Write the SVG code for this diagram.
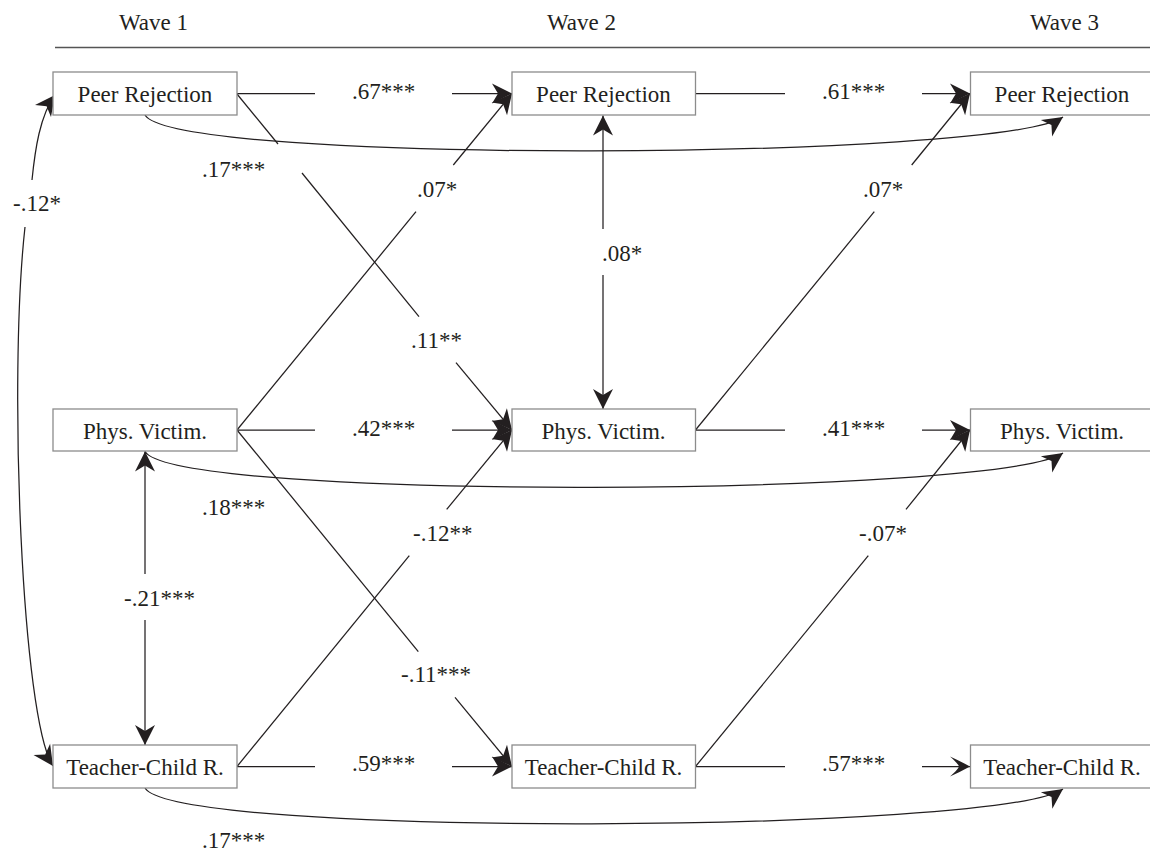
<svg xmlns="http://www.w3.org/2000/svg" width="1150" height="852" viewBox="0 0 1150 852">
<style>
text{font-family:"Liberation Serif","Times New Roman",serif;font-size:23px;fill:#231f20}
.box{fill:#fff;stroke:#8c8c8c;stroke-width:1.3}
.c{fill:none;stroke:#231f20;stroke-width:1.25}
.nl text{text-anchor:middle}
</style>
<defs>
<marker id="a" viewBox="-21 -11 22 22" refX="0" refY="0" markerWidth="22" markerHeight="22" markerUnits="userSpaceOnUse" orient="auto" overflow="visible">
<path d="M0,0 L-20,-10 L-14,0 L-20,10 Z" fill="#231f20"/>
</marker>
<marker id="t" viewBox="-21 -11 22 22" refX="0" refY="0" markerWidth="22" markerHeight="22" markerUnits="userSpaceOnUse" orient="auto" overflow="visible">
<path d="M0,0 Q-9,-5 -20,-10 Q-12,-3 -11,0 Q-12,3 -20,10 Q-9,5 0,0 Z" fill="#231f20"/>
</marker>
</defs>
<rect width="1150" height="852" fill="#fff"/>
<g id="header">
<text x="119" y="30">Wave 1</text>
<text x="547" y="30">Wave 2</text>
<text x="1030" y="30">Wave 3</text>
<line x1="55" y1="47.5" x2="1150" y2="47.5" stroke="#555" stroke-width="1.4"/>
</g>
<g id="connectors">
<!-- horizontal autoregressive -->
<path class="c" d="M237,93.5H315"/>
<path class="c" d="M452,93.5H512" marker-end="url(#a)"/>
<path class="c" d="M695.5,93.5H785"/>
<path class="c" d="M922,93.5H970" marker-end="url(#a)"/>
<path class="c" d="M237,430H315"/>
<path class="c" d="M452,430H512" marker-end="url(#a)"/>
<path class="c" d="M695.5,430H785"/>
<path class="c" d="M922,430H970" marker-end="url(#a)"/>
<path class="c" d="M237,766.5H315"/>
<path class="c" d="M452,766.5H512" marker-end="url(#a)"/>
<path class="c" d="M695.5,766.5H785"/>
<path class="c" d="M922,766.5H970" marker-end="url(#t)"/>
<!-- cross-lagged -->
<path class="c" d="M237,94L278,144"/>
<path class="c" d="M302,173L419,316.7"/>
<path class="c" d="M456,362.7L512,430" marker-end="url(#a)"/>
<path class="c" d="M237,430L416,211.7"/>
<path class="c" d="M453.3,165L512,93.5" marker-end="url(#a)"/>
<path class="c" d="M237,430L418.3,651.7"/>
<path class="c" d="M455,697.3L512,766.5" marker-end="url(#a)"/>
<path class="c" d="M237,766.5L409.3,555.7"/>
<path class="c" d="M446.7,509.3L512,430" marker-end="url(#a)"/>
<path class="c" d="M695.5,430L874.3,211.7"/>
<path class="c" d="M911.7,165L970,93.5" marker-end="url(#a)"/>
<path class="c" d="M695.5,766.5L868.3,555.7"/>
<path class="c" d="M906,509.3L970,430" marker-end="url(#a)"/>
<!-- correlations -->
<path class="c" d="M603,229V115.5" marker-end="url(#a)"/>
<path class="c" d="M603,275V409" marker-end="url(#a)"/>
<path class="c" d="M145,574V451.5" marker-end="url(#a)"/>
<path class="c" d="M145,620V745" marker-end="url(#a)"/>
<path class="c" d="M32,180C35,150 40,115 55,95" marker-end="url(#a)"/>
<path class="c" d="M25,227C8,380 22,720 53,766" marker-end="url(#a)"/>
<!-- stability W1 to W3 -->
<path class="c" d="M145,115C175,165 1000,160 1063,117" marker-end="url(#a)"/>
<path class="c" d="M145,451.5C175,501.5 1000,496.5 1063,453" marker-end="url(#a)"/>
<path class="c" d="M145,788C175,838 1000,833 1063,789" marker-end="url(#a)"/>
</g>
<g id="labels">
<text x="352" y="99">.67***</text>
<text x="822" y="99">.61***</text>
<text x="352" y="436">.42***</text>
<text x="822" y="436">.41***</text>
<text x="352" y="771">.59***</text>
<text x="822" y="771">.57***</text>
<text x="202" y="176.5">.17***</text>
<text x="202" y="515">.18***</text>
<text x="202" y="848">.17***</text>
<text x="13" y="211">-.12*</text>
<text x="124" y="606">-.21***</text>
<text x="417" y="197">.07*</text>
<text x="863" y="197">.07*</text>
<text x="411" y="348">.11**</text>
<text x="602" y="261">.08*</text>
<text x="413" y="541">-.12**</text>
<text x="401" y="682">-.11***</text>
<text x="859" y="541">-.07*</text>
</g>
<g id="pr1" class="nl"><rect class="box" x="53" y="72" width="184" height="43"/><text x="145" y="102">Peer Rejection</text></g>
<g id="pr2" class="nl"><rect class="box" x="512" y="72" width="183.5" height="43"/><text x="603.5" y="102">Peer Rejection</text></g>
<g id="pr3" class="nl"><rect class="box" x="970.5" y="72" width="183" height="43"/><text x="1062" y="102">Peer Rejection</text></g>
<g id="pv1" class="nl"><rect class="box" x="53" y="409" width="184" height="42"/><text x="145" y="439">Phys. Victim.</text></g>
<g id="pv2" class="nl"><rect class="box" x="512" y="409" width="183.5" height="42"/><text x="603.5" y="439">Phys. Victim.</text></g>
<g id="pv3" class="nl"><rect class="box" x="970.5" y="409" width="183" height="42"/><text x="1062" y="439">Phys. Victim.</text></g>
<g id="tc1" class="nl"><rect class="box" x="53" y="745" width="184" height="43"/><text x="145" y="775">Teacher-Child R.</text></g>
<g id="tc2" class="nl"><rect class="box" x="512" y="745" width="183.5" height="43"/><text x="603.5" y="775">Teacher-Child R.</text></g>
<g id="tc3" class="nl"><rect class="box" x="970.5" y="745" width="183" height="43"/><text x="1062" y="775">Teacher-Child R.</text></g>
</svg>
